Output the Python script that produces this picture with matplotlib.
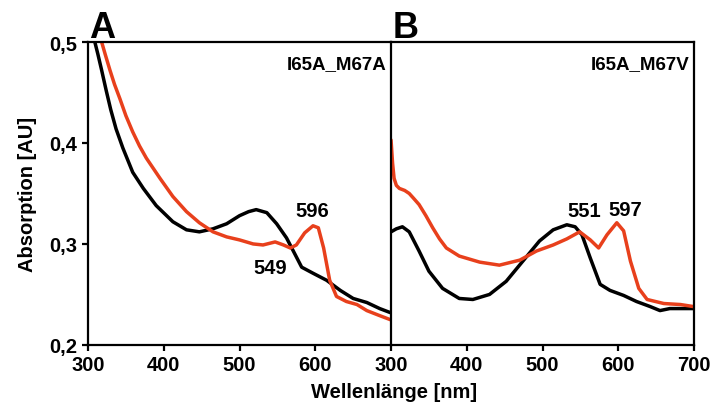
import matplotlib.pyplot as plt

plt.rcParams["font.family"] = ["Liberation Sans", "DejaVu Sans"]
plt.rcParams["font.weight"] = "bold"

RED = "#e8401c"

# Panel A: I65A_M67A
a_black_x = [309, 313, 318, 324, 330, 337, 346, 359, 373, 390, 412, 430, 447, 465, 483, 500,
             512, 522, 536, 549, 562, 571, 582, 597, 615, 633, 650, 668, 685, 699]
a_black_y = [0.500, 0.488, 0.472, 0.452, 0.433, 0.414, 0.395, 0.371, 0.355, 0.338, 0.322,
             0.314, 0.312, 0.315, 0.320, 0.328, 0.332, 0.334, 0.331, 0.320, 0.306, 0.293,
             0.277, 0.271, 0.264, 0.254, 0.246, 0.242, 0.236, 0.232]
a_red_x = [318, 323, 329, 335, 342, 350, 359, 368, 377, 395, 412, 430, 447, 465, 483, 500,
           518, 531, 547, 558, 567, 575, 586, 597, 604, 611, 619, 628, 641, 655, 668, 685, 699]
a_red_y = [0.500, 0.487, 0.472, 0.458, 0.444, 0.427, 0.411, 0.397, 0.385, 0.365, 0.347,
           0.332, 0.321, 0.312, 0.307, 0.304, 0.300, 0.299, 0.302, 0.299, 0.296, 0.299,
           0.311, 0.318, 0.316, 0.296, 0.264, 0.248, 0.243, 0.240, 0.234, 0.229, 0.225]

# Panel B: I65A_M67V
b_black_x = [300, 307, 315, 324, 337, 350, 368, 390, 408, 430, 452, 474, 496, 514, 532,
             543, 552, 563, 576, 589, 607, 624, 642, 655, 668, 699]
b_black_y = [0.312, 0.315, 0.317, 0.312, 0.293, 0.273, 0.256, 0.246, 0.245, 0.250, 0.263,
             0.283, 0.303, 0.314, 0.319, 0.317, 0.309, 0.286, 0.260, 0.254, 0.249, 0.243,
             0.238, 0.234, 0.236, 0.236]
b_red_x = [300, 302, 304, 307, 311, 318, 324, 330, 337, 346, 355, 364, 373, 390, 417, 443,
           470, 492, 514, 532, 549, 563, 574, 585, 598, 607, 616, 627, 638, 660, 682, 699]
b_red_y = [0.403, 0.380, 0.365, 0.358, 0.355, 0.353, 0.350, 0.345, 0.339, 0.328, 0.316,
           0.305, 0.296, 0.288, 0.282, 0.279, 0.284, 0.293, 0.299, 0.305, 0.312, 0.304,
           0.296, 0.309, 0.321, 0.313, 0.283, 0.256, 0.245, 0.241, 0.240, 0.238]

a_peaks = [("596", 596, 0.333), ("549", 541, 0.277)]
b_peaks = [("551", 555, 0.333), ("597", 609, 0.334)]

FS = 14.5

fig = plt.figure(figsize=(7.11, 4.06), dpi=100)
ax_a = fig.add_axes([0.1238, 0.148, 0.4262, 0.746])
ax_b = fig.add_axes([0.55, 0.148, 0.4262, 0.746])

panels = [
    (ax_a, a_black_x, a_black_y, a_red_x, a_red_y, a_peaks, "I65A_M67A", "A", [300, 400, 500, 600]),
    (ax_b, b_black_x, b_black_y, b_red_x, b_red_y, b_peaks, "I65A_M67V", "B", [300, 400, 500, 600, 700]),
]
for ax, bx, by, rx, ry, peaks, name, letter, xt in panels:
    ax.plot(bx, by, color="black", lw=2.5, solid_capstyle="round", solid_joinstyle="round")
    ax.plot(rx, ry, color=RED, lw=2.5, solid_capstyle="round", solid_joinstyle="round")
    ax.set_xlim(300, 700)
    ax.set_ylim(0.2, 0.5)
    ax.set_xticks(xt)
    ax.set_xticklabels([str(v) for v in xt])
    for sp in ax.spines.values():
        sp.set_linewidth(1.6)
    ax.tick_params(direction="out", length=4.5, width=1.6, labelsize=FS, pad=3)
    for lbl, x, y in peaks:
        ax.text(x, y, lbl, ha="center", va="center", fontsize=FS, fontweight="bold")
    ax.text(0.985, 0.958, name, transform=ax.transAxes, ha="right", va="top",
            fontsize=13.5, fontweight="bold")
    ax.text(0.005, 1.017, letter, transform=ax.transAxes, ha="left", va="baseline",
            fontsize=26, fontweight="bold")

ax_a.spines["right"].set_visible(False)
ax_a.set_yticks([0.2, 0.3, 0.4, 0.5])
ax_a.set_yticklabels(["0,2", "0,3", "0,4", "0,5"])
ax_a.set_ylabel("Absorption [AU]", fontsize=FS, fontweight="bold", labelpad=9)
ax_b.set_yticks([])

fig.text(0.554, 0.02, "Wellenlänge [nm]", ha="center", va="baseline", fontsize=FS, fontweight="bold")

fig.savefig("out.png", dpi=100)
